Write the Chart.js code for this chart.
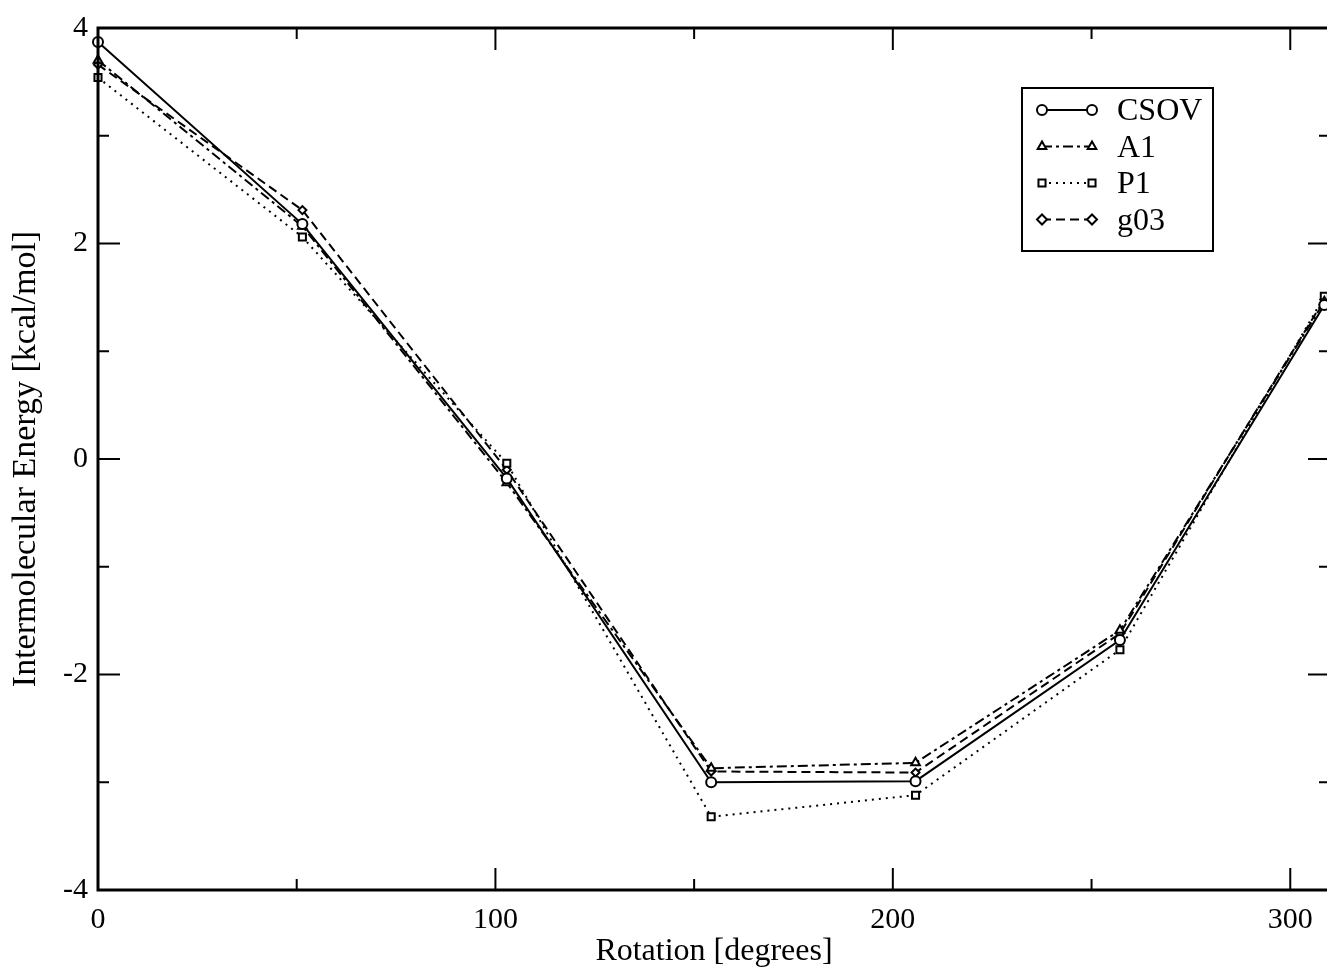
<!DOCTYPE html>
<html>
<head>
    <title>Intermolecular Energy vs Rotation</title>
    <style>
        body {
            margin: 0;
            padding: 0;
            background: #ffffff;
            overflow: hidden;
        }
        #chart-container {
            width: 1340px;
            height: 973px;
        }
    </style>
</head>
<body>
<div id="chart-container">
    <canvas id="chart" width="1340" height="973"></canvas>
</div>
<script src="https://cdn.jsdelivr.net/npm/chart.js"></script>
<script>
    // Rotation angles (degrees), steps of 360/7
    const rotation = [0, 51.43, 102.86, 154.29, 205.71, 257.14, 308.57];

    // Energies in kcal/mol for each method
    const csov = [3.87, 2.18, -0.18, -3.00, -2.99, -1.68, 1.43];
    const a1   = [3.70, 2.16, -0.22, -2.87, -2.82, -1.59, 1.46];
    const p1   = [3.54, 2.06, -0.04, -3.32, -3.12, -1.77, 1.51];
    const g03  = [3.66, 2.31, -0.10, -2.90, -2.91, -1.62, 1.48];

    const xTicks = [0, 100, 200, 300];
    const yTicks = [-4, -2, 0, 2, 4];

    const serif = '"Liberation Serif", "DejaVu Serif", serif';

    function toPoints(ys) {
      return rotation.map((x, i) => ({ x: x, y: ys[i] }));
    }

    function series(label, ys, style, dash, radius) {
      return {
        label: label,
        data: toPoints(ys),
        showLine: true,
        borderColor: '#000',
        borderWidth: 2,
        borderDash: dash,
        pointStyle: style,
        pointRadius: radius,
        pointBorderWidth: 2,
        pointBorderColor: '#000',
        pointBackgroundColor: '#fff',
        clip: false,
      };
    }

    // inward ticks and the box frame, xmgrace style
    const frame = {
      id: 'frame',
      afterDraw(chart) {
        const ctx = chart.ctx;
        const a = chart.chartArea;
        const sx = chart.scales.x, sy = chart.scales.y;
        ctx.save();
        ctx.strokeStyle = '#000';
        ctx.lineWidth = 2;
        ctx.beginPath();
        for (let v = 0; v <= 300; v += 50) {
          const px = sx.getPixelForValue(v);
          const len = v % 100 === 0 ? 22 : 11;
          ctx.moveTo(px, a.bottom); ctx.lineTo(px, a.bottom - len);
          ctx.moveTo(px, a.top); ctx.lineTo(px, a.top + len);
        }
        for (let v = -3; v <= 3; v += 1) {
          const py = sy.getPixelForValue(v);
          const len = v % 2 === 0 ? 22 : 11;
          ctx.moveTo(a.left, py); ctx.lineTo(a.left + len, py);
          ctx.moveTo(a.right, py); ctx.lineTo(a.right - len, py);
        }
        ctx.stroke();
        ctx.lineWidth = 3;
        ctx.strokeRect(a.left, a.top, a.right - a.left, a.bottom - a.top);
        ctx.restore();
      }
    };

    // boxed legend in the upper right of the plot
    const boxLegend = {
      id: 'boxLegend',
      afterDraw(chart) {
        const ctx = chart.ctx;
        const left = 1022, top = 88, w = 191, h = 163;
        ctx.save();
        ctx.fillStyle = '#fff';
        ctx.fillRect(left, top, w, h);
        ctx.strokeStyle = '#000';
        ctx.lineWidth = 2;
        ctx.strokeRect(left, top, w, h);
        chart.data.datasets.forEach((ds, i) => {
          const y = top + 22 + i * 36.5;
          const x0 = left + 20, x1 = left + 70;
          ctx.strokeStyle = '#000';
          ctx.lineWidth = 2;
          ctx.setLineDash(ds.borderDash);
          ctx.beginPath();
          ctx.moveTo(x0, y); ctx.lineTo(x1, y);
          ctx.stroke();
          ctx.setLineDash([]);
          ctx.fillStyle = '#fff';
          const opts = { pointStyle: ds.pointStyle, radius: 5, borderWidth: 2 };
          Chart.helpers.drawPoint(ctx, opts, x0, y);
          Chart.helpers.drawPoint(ctx, opts, x1, y);
          ctx.fillStyle = '#000';
          ctx.font = '32px ' + serif;
          ctx.textBaseline = 'middle';
          ctx.fillText(ds.label, left + 95, y + 2);
        });
        ctx.restore();
      }
    };

    const ctx = document.getElementById('chart').getContext('2d');

    const chart = new Chart(ctx, {
      type: 'scatter',
      data: {
        datasets: [
          series('CSOV', csov, 'circle', [], 5),
          series('A1', a1, 'triangle', [10, 4, 3, 4], 5),
          series('P1', p1, 'rect', [2, 5], 5),
          series('g03', g03, 'rectRot', [9, 5], 4),
        ],
      },
      options: {
        responsive: false,
        animation: false,
        layout: {
          padding: { top: 28, right: 10, left: 0, bottom: 0 },
        },
        scales: {
          x: {
            type: 'linear',
            min: 0,
            max: 310,
            afterBuildTicks(scale) {
              scale.ticks = xTicks.map(v => ({ value: v }));
            },
            afterFit(scale) { scale.height = 83; },
            grid: { display: false, drawTicks: false },
            border: { display: false },
            ticks: {
              color: '#000',
              padding: 12,
              maxRotation: 0,
              font: { family: serif, size: 30 },
            },
            title: {
              display: true,
              text: 'Rotation [degrees]',
              color: '#000',
              padding: { top: 0, bottom: 2 },
              font: { family: serif, size: 32 },
            },
          },
          y: {
            type: 'linear',
            min: -4,
            max: 4,
            afterBuildTicks(scale) {
              scale.ticks = yTicks.map(v => ({ value: v }));
            },
            afterFit(scale) { scale.width = 98; },
            grid: { display: false, drawTicks: false },
            border: { display: false },
            ticks: {
              color: '#000',
              padding: 10,
              font: { family: serif, size: 30 },
            },
            title: {
              display: true,
              text: 'Intermolecular Energy [kcal/mol]',
              color: '#000',
              padding: { top: 6, bottom: 0 },
              font: { family: serif, size: 34 },
            },
          },
        },
        plugins: {
          legend: { display: false },
          tooltip: { enabled: false },
        },
      },
      plugins: [frame, boxLegend],
    });
</script>
</body>
</html>
